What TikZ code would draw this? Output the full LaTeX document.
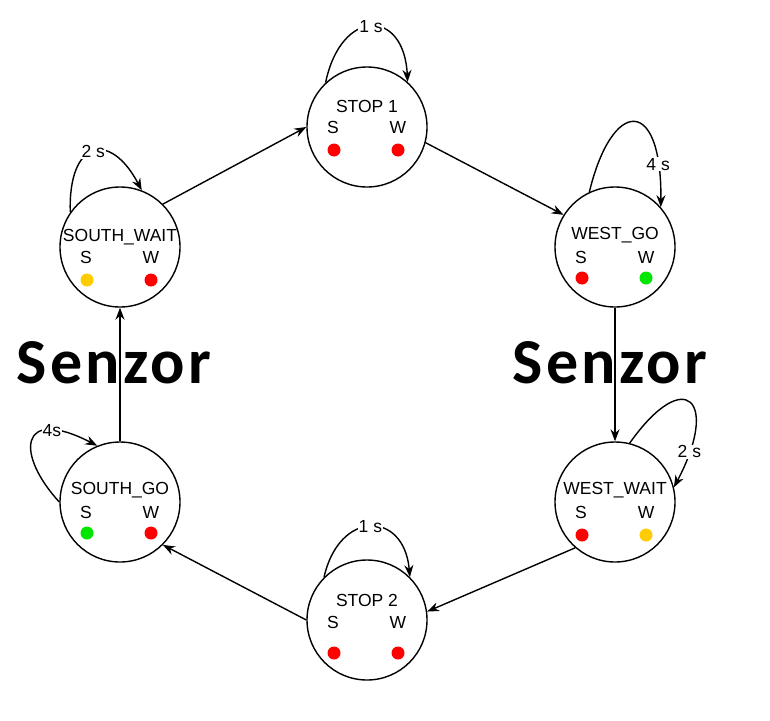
\documentclass[tikz,border=0pt]{standalone}
\usepackage{fontspec}
\setmainfont{Liberation Sans}
\newfontfamily\senzorfont[LetterSpace=5]{Carlito}
\usetikzlibrary{arrows.meta}
\definecolor{lampred}{RGB}{255,0,0}
\definecolor{lampyellow}{RGB}{255,204,0}
\definecolor{lampgreen}{RGB}{0,230,0}

\begin{document}
\begin{tikzpicture}
    [
    x=1pt, y=-1pt,
    state/.style={circle,draw,line width=1.4pt,inner sep=0pt,minimum size=120pt},
    txt/.style={font=\fontsize{17.5}{20}\selectfont,inner sep=1pt},
    lamp/.style={circle,inner sep=0pt,minimum size=13pt},
    arr/.style={line width=1.4pt,-{Stealth[length=12pt,width=9pt]}},
    lbl/.style={txt,fill=white},
    big/.style={anchor=base,inner sep=0pt,font=\senzorfont\bfseries\fontsize{64}{70}\selectfont},
    ]
    \useasboundingbox (0,0) rectangle (770,720);

    \foreach \n/\cx/\cy/\title/\ty/\ly/\dy/\sc/\wc in {
        s1/367/127/STOP 1/-21/0/23/lampred/lampred,
        wg/615/247/WEST\_GO/-12/10/31/lampred/lampgreen,
        ww/615/502/WEST\_WAIT/-12/10/33/lampred/lampyellow,
        s2/367/620/STOP 2/-20/2/33/lampred/lampred,
        sg/120/502/SOUTH\_GO/-12/10/31/lampgreen/lampred,
        sw/120/247/SOUTH\_WAIT/-10/10/33/lampyellow/lampred}
    {
      \node (\n) at (\cx,\cy) [state] {};
      \node (\n-t) at (\cx,{\cy+\ty}) [txt] {\title};
      \node (\n-s) at ({\cx-34},{\cy+\ly}) [txt] {S};
      \node (\n-w) at ({\cx+31},{\cy+\ly}) [txt] {W};
      \node (\n-sl) at ({\cx-33},{\cy+\dy}) [lamp, fill=\sc] {};
      \node (\n-wl) at ({\cx+31},{\cy+\dy}) [lamp, fill=\wc] {};
    }

    \draw [arr] (sw.45) -- (s1.west);
    \draw [arr] (s1.-15) -- (wg.148);
    \draw [arr] (wg.south) -- (ww.north);
    \draw [arr] (ww.-131) -- (s2.8);
    \draw [arr] (s2.west) -- (sg.-45);
    \draw [arr] (sg.north) -- (sw.south);

    % timer loops
    \draw [arr] (s1.133) .. controls (341,8) and (404,8) .. (s1.48)
      node [lbl, pos=0.5] (s1-time) {1 s};
    \draw [arr] (wg.115) .. controls (612,98) and (662,95) .. (wg.41)
      node [lbl, pos=0.85] (wg-time) {4 s};
    \draw [arr] (ww.76) .. controls (685,365) and (720,400) .. (ww.14)
      node [lbl, pos=0.85] (ww-time) {2 s};
    \draw [arr] (s2.135) .. controls (339,510) and (404,510) .. (s2.45)
      node [lbl, pos=0.5] (s2-time) {1 s};
    \draw [arr] (sg.west) .. controls (16,455) and (18,405) .. (sg.112)
      node [lbl, pos=0.75] (sg-time) {4s};
    \draw [arr] (sw.145) .. controls (68,140) and (110,130) .. (sw.69)
      node [lbl, pos=0.5] (sw-time) {2 s};

    \node (senzor-l) at (114,383) [big] {Senzor};
    \node (senzor-r) at (610,383) [big] {Senzor};
\end{tikzpicture}
\end{document}
